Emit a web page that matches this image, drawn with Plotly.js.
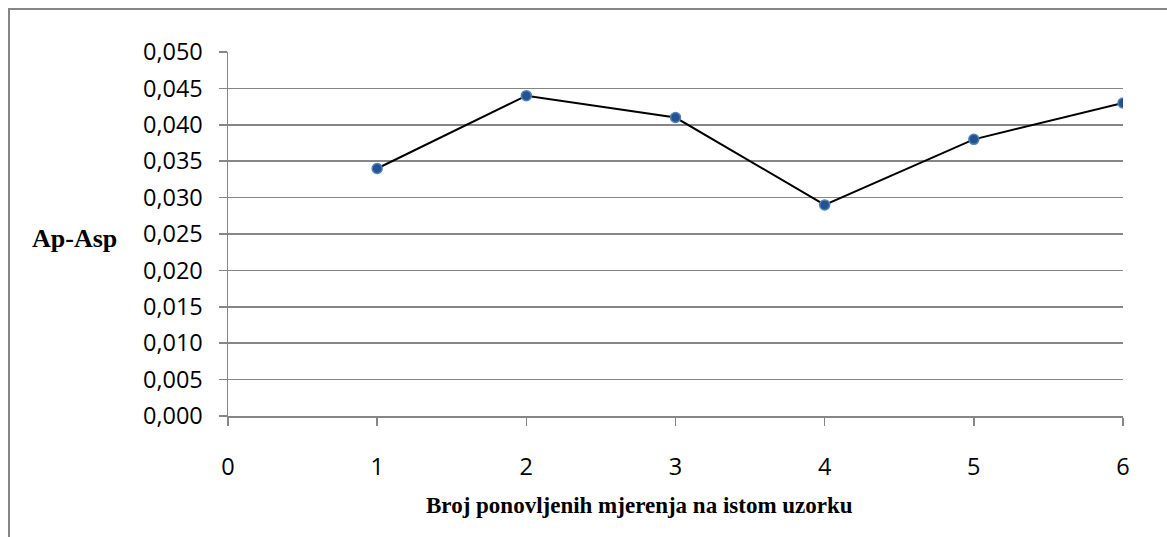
<!DOCTYPE html>
<html>
<head>
<meta charset="utf-8">
<script src="https://cdn.plot.ly/plotly-3.0.1.min.js"></script>
<style>html,body{margin:0;padding:0;background:#fff;}#chart{width:1167px;height:537px;}</style>
</head>
<body>
<div id="chart"></div>
<script>
const measurements = [1, 2, 3, 4, 5, 6];
const values = [0.034, 0.044, 0.041, 0.029, 0.038, 0.043];
const yTickVals = [0, 0.005, 0.01, 0.015, 0.02, 0.025, 0.03, 0.035, 0.04, 0.045, 0.05];
const yTickText = ["0,000","0,005","0,010","0,015","0,020","0,025","0,030","0,035","0,040","0,045","0,050"];
const xTickVals = [0, 1, 2, 3, 4, 5, 6];
const xTitle = "Broj ponovljenih mjerenja na istom uzorku";
const yTitle = "Ap-Asp";

const L = 228, R = 44, T = 52, B = 121, W = 1167, H = 537;
const pw = W - L - R, ph = H - T - B;
const px = p => (p - L) / pw;
const py = p => (H - B - p) / ph;

const trace = {
  x: measurements, y: values, type: 'scatter', mode: 'lines+markers',
  line: {color: '#000000', width: 2},
  marker: {size: 10, color: '#24528f', line: {color: '#4f81bd', width: 1.5}},
  hoverinfo: 'x+y'
};

const axisCommon = {
  showline: true, linecolor: '#868686', linewidth: 1.5,
  ticks: 'outside', ticklen: 8, tickcolor: '#868686', tickwidth: 1.5,
  tickfont: {family: 'Open Sans, sans-serif', size: 23.5, color: '#000'},
  zeroline: false
};

const layout = {
  width: W, height: H,
  margin: {l: L, r: R, t: T, b: B, pad: 0},
  paper_bgcolor: '#ffffff', plot_bgcolor: '#ffffff',
  showlegend: false,
  xaxis: Object.assign({}, axisCommon, {
    range: [0, 6], tickvals: xTickVals, ticktext: xTickVals.map(String),
    showgrid: false, ticklabelstandoff: 21
  }),
  yaxis: Object.assign({}, axisCommon, {
    range: [0, 0.05], tickvals: yTickVals, ticktext: yTickText,
    showgrid: true, gridcolor: '#868686', gridwidth: 1.5, ticklabelstandoff: 11
  }),
  annotations: [
    {text: '<b>' + xTitle + '</b>', xref: 'paper', yref: 'paper', x: px(639), y: py(505),
     xanchor: 'center', yanchor: 'middle', showarrow: false,
     font: {family: 'Liberation Serif, Times New Roman, serif', size: 23, color: '#000'}},
    {text: '<b>' + yTitle + '</b>', xref: 'paper', yref: 'paper', x: px(74), y: py(238),
     xanchor: 'center', yanchor: 'middle', showarrow: false,
     font: {family: 'Liberation Serif, Times New Roman, serif', size: 26, color: '#000'}}
  ],
  shapes: [
    {type: 'rect', xref: 'paper', yref: 'paper', x0: px(9), x1: px(1180), y0: py(550), y1: py(9),
     line: {color: '#868686', width: 2}, fillcolor: 'rgba(0,0,0,0)', layer: 'below'}
  ]
};

Plotly.newPlot('chart', [trace], layout, {displayModeBar: false, staticPlot: true});
</script>
</body>
</html>
